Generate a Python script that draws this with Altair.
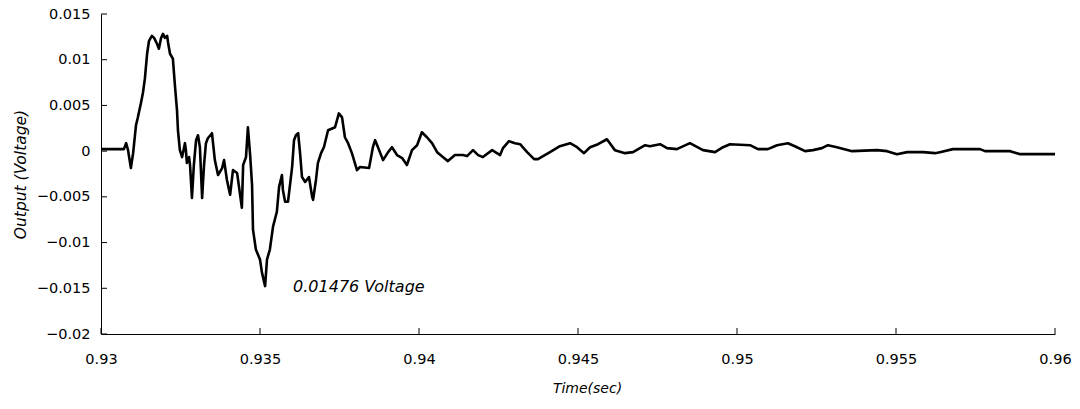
import altair as alt
import pandas as pd

# Time (sec) samples
time_s = [
    0.93000, 0.93072, 0.93079, 0.93085, 0.93094, 0.93101, 0.93110, 0.93116, 0.93126, 0.93132,
    0.93138, 0.93145, 0.93151, 0.93160, 0.93167, 0.93176, 0.93182, 0.93189, 0.93195, 0.93201,
    0.93208, 0.93211, 0.93217, 0.93226, 0.93233, 0.93239, 0.93242, 0.93248, 0.93255, 0.93264,
    0.93267, 0.93270, 0.93277, 0.93280, 0.93286, 0.93292, 0.93299, 0.93305, 0.93311, 0.93318,
    0.93324, 0.93330, 0.93336, 0.93349, 0.93358, 0.93368, 0.93381, 0.93387, 0.93396, 0.93406,
    0.93415, 0.93428, 0.93434, 0.93443, 0.93447, 0.93456, 0.93462, 0.93469, 0.93475, 0.93478,
    0.93487, 0.93500, 0.93506, 0.93516, 0.93522, 0.93531, 0.93541, 0.93553, 0.93560, 0.93569,
    0.93572, 0.93579, 0.93588, 0.93601, 0.93607, 0.93613, 0.93620, 0.93626, 0.93632, 0.93642,
    0.93654, 0.93664, 0.93667, 0.93676, 0.93682, 0.93692, 0.93701, 0.93714, 0.93736, 0.93748,
    0.93758, 0.93767, 0.93777, 0.93789, 0.93805, 0.93814, 0.93843, 0.93855, 0.93862, 0.93871,
    0.93887, 0.93903, 0.93915, 0.93931, 0.93947, 0.93962, 0.93978, 0.93994, 0.94009, 0.94025,
    0.94041, 0.94057, 0.94075, 0.94091, 0.94113, 0.94138, 0.94151, 0.94170, 0.94186, 0.94201,
    0.94230, 0.94255, 0.94264, 0.94283, 0.94302, 0.94318, 0.94340, 0.94362, 0.94374, 0.94412,
    0.94443, 0.94475, 0.94497, 0.94519, 0.94538, 0.94563, 0.94591, 0.94616, 0.94648, 0.94673,
    0.94711, 0.94726, 0.94758, 0.94780, 0.94811, 0.94852, 0.94893, 0.94931, 0.94956, 0.94978,
    0.95041, 0.95066, 0.95097, 0.95126, 0.95160, 0.95182, 0.95214, 0.95239, 0.95267, 0.95286,
    0.95314, 0.95362, 0.95440, 0.95472, 0.95503, 0.95535, 0.95585, 0.95623, 0.95638, 0.95679,
    0.95764, 0.95780, 0.95859, 0.95890, 0.95943, 0.96000,
]

# Output (Voltage) samples
output_v = [
    0.00022, 0.00022, 0.00087, 0.00011, -0.00185, -0.00022, 0.00283, 0.00370, 0.00533, 0.00641,
    0.00793, 0.01065, 0.01207, 0.01261, 0.01239, 0.01174, 0.01120, 0.01239, 0.01283, 0.01239,
    0.01261, 0.01185, 0.01065, 0.01011, 0.00696, 0.00446, 0.00228, 0.00011, -0.00065, 0.00087,
    0.00011, -0.00130, -0.00065, -0.00152, -0.00511, -0.00152, 0.00120, 0.00174, 0.00043, -0.00511,
    -0.00152, 0.00087, 0.00141, 0.00196, -0.00098, -0.00261, -0.00185, -0.00098, -0.00315, -0.00478,
    -0.00207, -0.00239, -0.00391, -0.00620, -0.00152, -0.00065, 0.00261, -0.00043, -0.00370, -0.00859,
    -0.01076, -0.01185, -0.01326, -0.01476, -0.01185, -0.01076, -0.00826, -0.00663, -0.00391, -0.00261,
    -0.00424, -0.00554, -0.00554, -0.00174, 0.00120, 0.00174, 0.00196, -0.00022, -0.00283, -0.00337,
    -0.00283, -0.00500, -0.00533, -0.00315, -0.00130, -0.00022, 0.00043, 0.00228, 0.00261, 0.00413,
    0.00370, 0.00152, 0.00087, -0.00022, -0.00207, -0.00174, -0.00185, 0.00043, 0.00120, 0.00043,
    -0.00098, -0.00011, 0.00043, -0.00043, -0.00076, -0.00152, 0.00011, 0.00065, 0.00207, 0.00152,
    0.00087, -0.00011, -0.00065, -0.00109, -0.00043, -0.00043, -0.00054, 0.00011, -0.00043, -0.00065,
    0.00011, -0.00043, 0.00033, 0.00109, 0.00087, 0.00076, -0.00011, -0.00087, -0.00087, -0.00011,
    0.00054, 0.00087, 0.00043, -0.00022, 0.00043, 0.00076, 0.00130, 0.00011, -0.00022, -0.00011,
    0.00065, 0.00054, 0.00076, 0.00033, 0.00022, 0.00087, 0.00011, -0.00011, 0.00043, 0.00076,
    0.00065, 0.00022, 0.00022, 0.00065, 0.00087, 0.00054, 0.00000, 0.00011, 0.00033, 0.00065,
    0.00043, 0.00000, 0.00011, 0.00000, -0.00033, -0.00011, -0.00011, -0.00022, -0.00011, 0.00022,
    0.00022, 0.00000, 0.00000, -0.00033, -0.00033, -0.00033,
]

x_ticks = [0.93, 0.935, 0.94, 0.945, 0.95, 0.955, 0.96]
y_ticks = [-0.02, -0.015, -0.01, -0.005, 0, 0.005, 0.01, 0.015]

annotation_text = ["0.01476 Voltage"]
annotation_time = [0.93604]
annotation_value = [-0.01485]

W, H = 954, 320
FONT = "DejaVu Sans"

df = pd.DataFrame({"t": time_s, "v": output_v})
xt = pd.DataFrame({"t": x_ticks})
yt = pd.DataFrame({"v": y_ticks})
ann = pd.DataFrame({"t": annotation_time, "v": annotation_value, "label": annotation_text})

xscale = alt.Scale(domain=[0.93, 0.96], nice=False, zero=False)
yscale = alt.Scale(domain=[-0.02, 0.015], nice=False, zero=False)

x_axis = alt.Axis(
    values=x_ticks, tickSize=0, grid=False, domainColor="black", domainWidth=1,
    labelFont=FONT, labelFontSize=14.5, labelColor="black", labelPadding=18,
    labelFlush=False, labelOverlap=False,
    labelExpr="format(datum.value, '.3~f')",
    title="Time(sec)", titleFont=FONT, titleFontSize=14, titleFontStyle="italic",
    titleFontWeight="normal", titleColor="black", titlePadding=16, titleX=486,
)
y_axis = alt.Axis(
    values=y_ticks, tickSize=0, grid=False, domainColor="black", domainWidth=1,
    labelFont=FONT, labelFontSize=14.5, labelColor="black", labelPadding=11,
    labelFlush=False, labelOverlap=False,
    labelExpr="datum.value == 0 ? '0' : replace(format(datum.value, '.3~f'), '-', '\u2212')",
    title="Output (Voltage)", titleFont=FONT, titleFontSize=15.5, titleFontStyle="italic",
    titleFontWeight="normal", titleColor="black", titlePadding=8,
)

line = alt.Chart(df).mark_line(color="black", strokeWidth=2.6, interpolate="linear",
                               strokeJoin="round").encode(
    x=alt.X("t:Q", scale=xscale, axis=x_axis),
    y=alt.Y("v:Q", scale=yscale, axis=y_axis),
)

xtick_rules = alt.Chart(xt).mark_rule(color="black", strokeWidth=1).encode(
    x=alt.X("t:Q", scale=xscale),
    y=alt.value(H), y2=alt.value(H - 6),
)
ytick_rules = alt.Chart(yt).mark_rule(color="black", strokeWidth=1).encode(
    y=alt.Y("v:Q", scale=yscale),
    x=alt.value(0), x2=alt.value(6),
)

text = alt.Chart(ann).mark_text(
    align="left", baseline="middle", font=FONT, fontSize=16, fontStyle="italic", color="black"
).encode(
    x=alt.X("t:Q", scale=xscale),
    y=alt.Y("v:Q", scale=yscale),
    text="label:N",
)

chart = alt.layer(line, xtick_rules, ytick_rules, text).properties(
    width=W, height=H,
    autosize="none",
    padding={"left": 101, "top": 14, "right": 25, "bottom": 75},
    background="white",
).configure_view(stroke=None)

chart.save("out.html", embed_options={"renderer": "svg", "actions": False})
